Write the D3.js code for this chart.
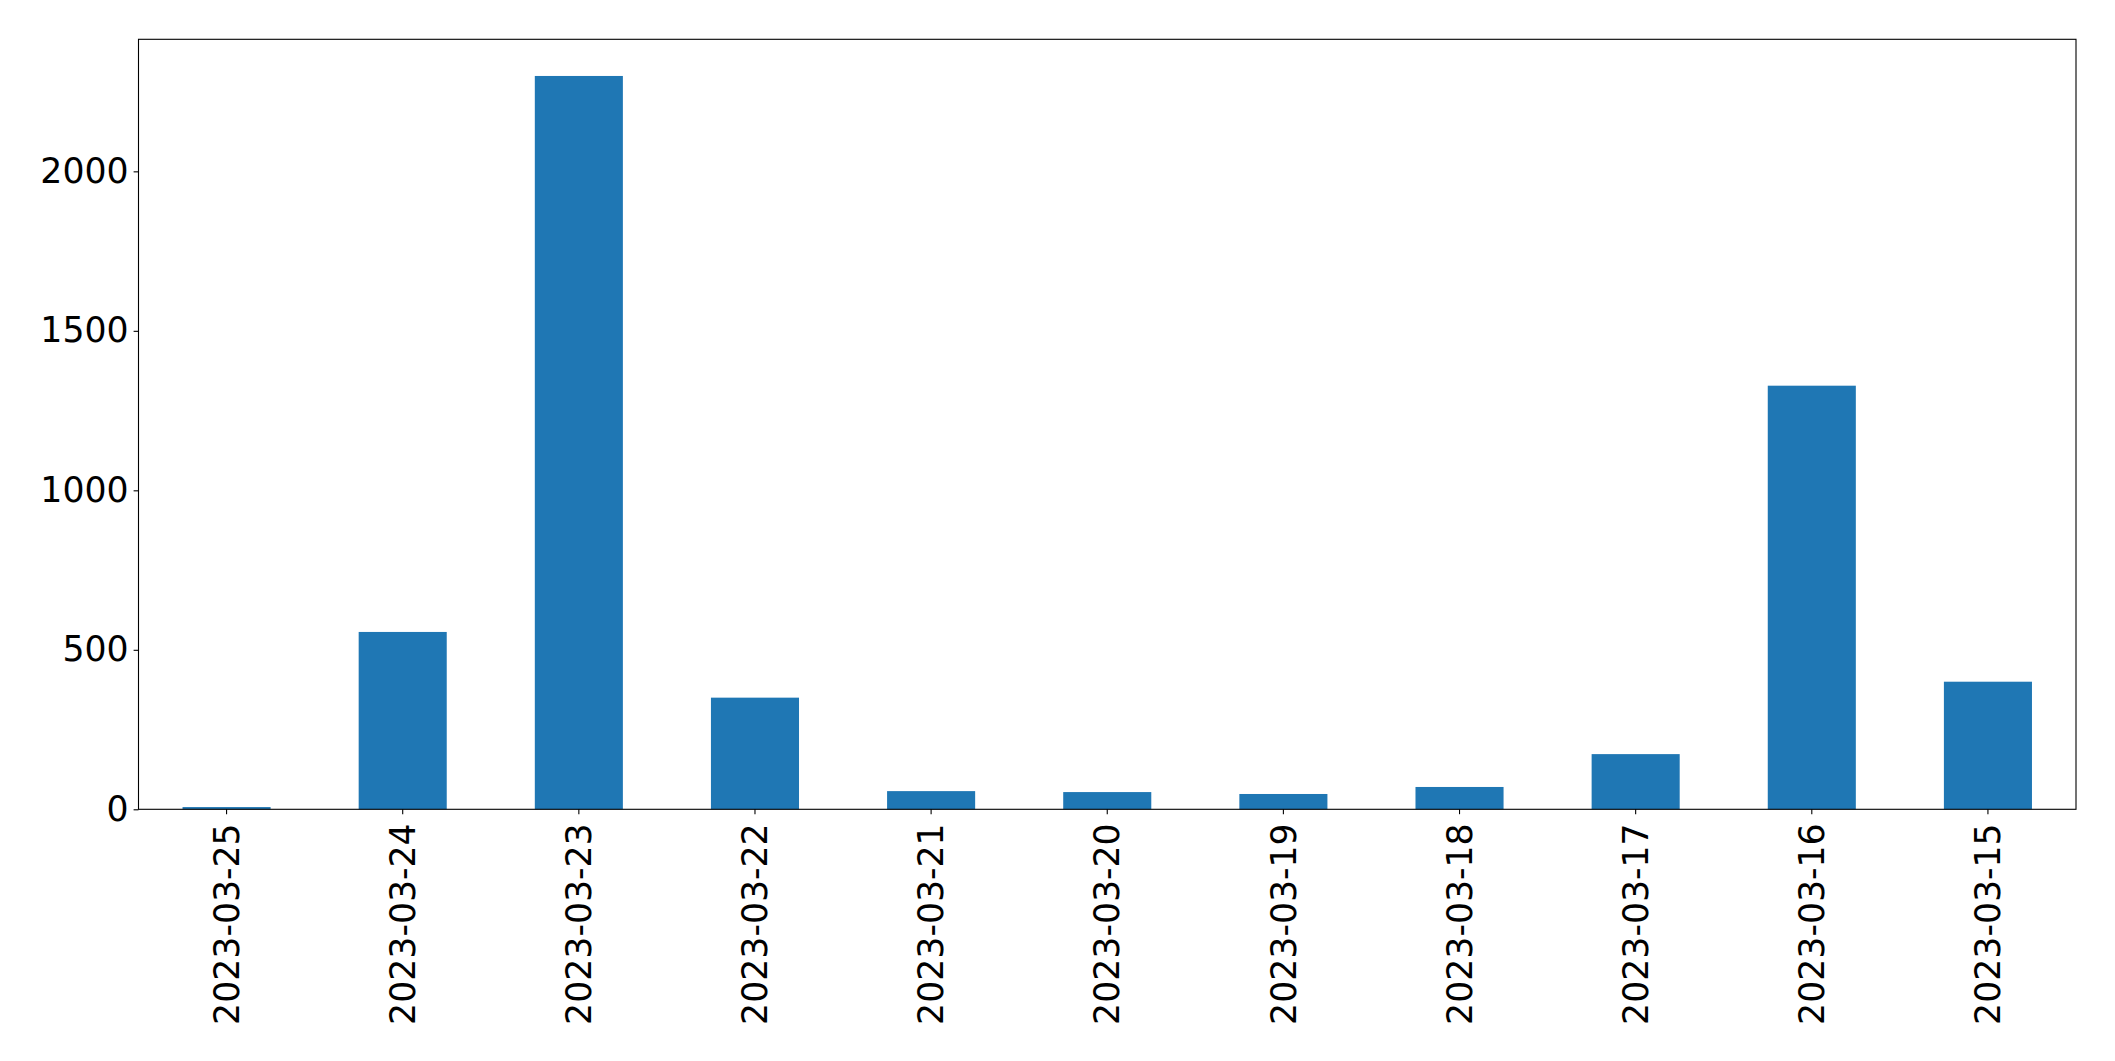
<!DOCTYPE html>
<html>
<head>
<meta charset="utf-8">
<script src="https://cdnjs.cloudflare.com/ajax/libs/d3/7.8.5/d3.min.js"></script>
<style>
    body { margin: 0; background: white; }
    text { font-family: "DejaVu Sans", sans-serif; }
</style>
</head>
<body>
<div id="chart-area"></div>
<script>
/*
*    bar chart by day
*/

var dates = ["2023-03-25", "2023-03-24", "2023-03-23", "2023-03-22", "2023-03-21", "2023-03-20",
    "2023-03-19", "2023-03-18", "2023-03-17", "2023-03-16", "2023-03-15"];
var counts = [7, 556, 2299, 350, 57, 54, 48, 70, 173, 1328, 400];
var yTicks = [0, 500, 1000, 1500, 2000];

var margin = { left: 138.5, right: 39, top: 39.3, bottom: 251.7 };

var width = 2115 - margin.left - margin.right;
var height = 1061 - margin.top - margin.bottom;

var svg = d3.select("#chart-area").append("svg")
    .attr("width", 2115)
    .attr("height", 1061);

var g = svg.append("g")
    .attr("transform", "translate(" + margin.left + ", " + margin.top + ")");

var data = dates.map((d, i) => ({ date: d, count: counts[i] }));

var x = d3.scaleBand()
    .domain(dates)
    .range([0, width])
    .paddingInner(0.5)
    .paddingOuter(0.25);

var y = d3.scaleLinear()
    .domain([0, d3.max(counts) * 1.05])
    .range([height, 0]);

// bars
g.selectAll("rect.bar")
    .data(data)
    .enter()
    .append("rect")
        .attr("class", "bar")
        .attr("x", (d) => x(d.date))
        .attr("y", (d) => y(d.count))
        .attr("width", x.bandwidth())
        .attr("height", (d) => height - y(d.count))
        .attr("fill", "#1f77b4");

// x Axis
var xAxisCall = d3.axisBottom(x)
    .tickSizeInner(4.9)
    .tickSizeOuter(0)
    .tickPadding(5);
var xAxis = g.append("g")
    .attr("class", "x axis")
    .attr("transform", "translate(0, " + height + ")")
    .call(xAxisCall);

xAxis.select(".domain").remove();
xAxis.selectAll(".tick line")
    .attr("stroke", "black")
    .attr("stroke-width", 1.1);
xAxis.selectAll(".tick text")
    .attr("x", -14)
    .attr("y", 0)
    .attr("dy", "0.35em")
    .attr("text-anchor", "end")
    .attr("transform", "rotate(-90)")
    .attr("fill", "black")
    .style("font-size", "34.7px");

// y Axis
var yAxisCall = d3.axisLeft(y)
    .tickValues(yTicks)
    .tickSizeInner(4.9)
    .tickSizeOuter(0)
    .tickPadding(5)
    .tickFormat((d) => d);
var yAxis = g.append("g")
    .attr("class", "y axis")
    .call(yAxisCall);

yAxis.select(".domain").remove();
yAxis.selectAll(".tick line")
    .attr("stroke", "black")
    .attr("stroke-width", 1.1);
yAxis.selectAll(".tick text")
    .attr("fill", "black")
    .style("font-size", "34.7px");

// frame
g.append("rect")
    .attr("x", 0)
    .attr("y", 0)
    .attr("width", width)
    .attr("height", height)
    .attr("fill", "none")
    .attr("stroke", "black")
    .attr("stroke-width", 1.1);
</script>
</body>
</html>
